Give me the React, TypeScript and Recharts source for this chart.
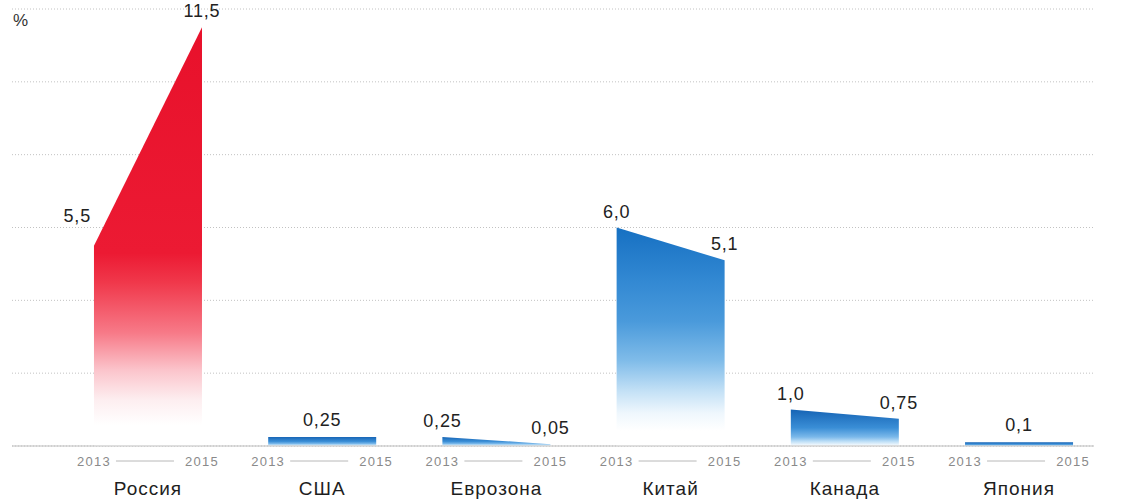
import React from 'react';
import {
  ComposedChart,
  Area,
  XAxis,
  YAxis,
  CartesianGrid,
  LabelList,
  ReferenceDot,
} from 'recharts';

const countries = ['Россия', 'США', 'Еврозона', 'Китай', 'Канада', 'Япония'];
const seriesKeys = ['ru', 'us', 'ez', 'cn', 'ca', 'jp'];
const years = ['2013', '2015'];
const rate2013 = [5.5, 0.25, 0.25, 6.0, 1.0, 0.1];
const rate2015 = [11.5, 0.25, 0.05, 5.1, 0.75, 0.1];
const gridTicks = [2, 4, 6, 8, 10];

// layout of the number axis: each country spans one unit, groups are spaced by GROUP_STEP
const GROUP_STEP = 1.613;
const X_DOMAIN: [number, number] = [-0.759, 9.259];
const FONT = '"Liberation Sans", Arial, Helvetica, sans-serif';
const YEAR_AXIS = 'a-years';
const NAME_AXIS = 'b-names';

const rows = countries.flatMap((_, i) =>
  [rate2013[i], rate2015[i]].map((v, j) => ({
    x: i * GROUP_STEP + j,
    year: years[j],
    [seriesKeys[i]]: v,
  }))
);
const yearTicks = rows.map((r) => r.x);
const centers = countries.map((_, i) => i * GROUP_STEP + 0.5);

const fmt = (v: number) =>
  (Number.isInteger(v) ? v.toFixed(1) : String(v)).replace('.', ',');

const GRADIENTS: Record<string, [number, string][]> = {
  ru: [
    [0, '#e8112b'],
    [0.54, '#ec1a33'],
    [0.61, '#f0384b'],
    [0.73, '#f77a88'],
    [0.82, '#fbc5cc'],
    [0.89, '#fdeef0'],
    [0.95, '#ffffff'],
  ],
  cn: [
    [0, '#1670c2'],
    [0.25, '#3389d3'],
    [0.43, '#4a9adb'],
    [0.61, '#80bce9'],
    [0.75, '#c4e1f6'],
    [0.85, '#eff7fd'],
    [0.93, '#ffffff'],
  ],
  small: [
    [0, '#1664b5'],
    [0.5, '#3a8ed6'],
    [0.75, '#7ab8ea'],
    [0.88, '#c0e0f7'],
    [1, '#ffffff'],
  ],
};
const gradFor = (k: string) => (k === 'ru' || k === 'cn' ? k : 'small');

const valueLabel = (i: number) => (props: any) => {
  const { value, index } = props;
  if (value == null) return null;
  const x = Number(props.x ?? props.viewBox?.x);
  const y = Number(props.y ?? props.viewBox?.y);
  const first = index % 2 === 0;
  const rising = first && rate2015[i] > rate2013[i];
  return (
    <text
      x={rising ? x - 3 : x}
      y={rising ? y - 30 : y - 16}
      textAnchor={rising ? 'end' : 'middle'}
      dominantBaseline='central'
      fontSize={18}
      fontFamily={FONT}
      letterSpacing={0.8}
      fill='#222'
    >
      {fmt(value)}
    </text>
  );
};

const singleLabel = (v: number) => (props: any) => {
  const vb = props.viewBox || {};
  return (
    <text
      x={vb.x + (vb.width || 0) / 2}
      y={vb.y - 17}
      textAnchor='middle'
      dominantBaseline='central'
      fontSize={18}
      fontFamily={FONT}
      letterSpacing={0.8}
      fill='#222'
    >
      {fmt(v)}
    </text>
  );
};

const YearTick = (props: any) => {
  const { x, y, payload } = props;
  const row = rows.find((r) => Math.abs(r.x - payload.value) < 1e-6);
  if (!row) return null;
  const first = row.year === years[0];
  return (
    <g>
      <text
        x={x}
        y={y + 7}
        textAnchor='middle'
        dominantBaseline='central'
        fontSize={13}
        fontFamily={FONT}
        letterSpacing={1.2}
        fill='#8a8a8a'
      >
        {row.year}
      </text>
      {first && (
        <line x1={x + 22} x2={x + 80} y1={y + 7} y2={y + 7} stroke='#b8b8b8' />
      )}
    </g>
  );
};

const NameTick = (props: any) => {
  const { x, y, payload } = props;
  const i = centers.findIndex((c) => Math.abs(c - payload.value) < 1e-6);
  if (i < 0) return null;
  return (
    <text
      x={x}
      y={y + 4}
      textAnchor='middle'
      dominantBaseline='central'
      fontSize={19}
      fontFamily={FONT}
      letterSpacing={1}
      fill='#1e1e1e'
    >
      {countries[i]}
    </text>
  );
};

const App = () => {
  return (
    <div style={{ position: 'relative', width: 1141, height: 500, background: '#fff' }}>
      <style>{'body{margin:0}'}</style>
      <div
        style={{
          position: 'absolute',
          left: 13,
          top: 11,
          fontFamily: FONT,
          fontSize: 17,
          lineHeight: '20px',
          color: '#333',
        }}
      >
        %
      </div>
      <ComposedChart
        width={1141}
        height={500}
        data={rows}
        margin={{ top: 9, right: 47, bottom: 0, left: 12 }}
      >
        <defs>
          {Object.entries(GRADIENTS).map(([id, stops]) => (
            <linearGradient key={id} id={`grad-${id}`} x1='0' y1='0' x2='0' y2='1'>
              {stops.map(([o, c]) => (
                <stop key={o} offset={o} stopColor={c} stopOpacity={1} />
              ))}
            </linearGradient>
          ))}
        </defs>
        <CartesianGrid
          xAxisId={YEAR_AXIS}
          vertical={false}
          stroke='#c2c2c2'
          strokeDasharray='1 2'
        />
        <XAxis
          xAxisId={YEAR_AXIS}
          type='number'
          dataKey='x'
          domain={X_DOMAIN}
          ticks={yearTicks}
          interval={0}
          allowDataOverflow
          tickLine={false}
          axisLine={{ stroke: '#bdbdbd' }}
          height={30}
          tick={<YearTick />}
        />
        <XAxis
          xAxisId={NAME_AXIS}
          type='number'
          dataKey='x'
          domain={X_DOMAIN}
          ticks={centers}
          interval={0}
          allowDataOverflow
          tickLine={false}
          axisLine={false}
          height={24}
          tick={<NameTick />}
        />
        <YAxis hide domain={[0, 12]} ticks={gridTicks} />
        {seriesKeys.map((k, i) => (
          <Area
            key={k}
            xAxisId={YEAR_AXIS}
            dataKey={k}
            type='linear'
            stroke='none'
            fill={`url(#grad-${gradFor(k)})`}
            fillOpacity={1}
            connectNulls={false}
            dot={false}
            activeDot={false}
            isAnimationActive={false}
          >
            {rate2013[i] !== rate2015[i] && (
              <LabelList dataKey={k} content={valueLabel(i)} />
            )}
          </Area>
        ))}
        {countries.map((_, i) =>
          rate2013[i] === rate2015[i] ? (
            <ReferenceDot
              key={`single-${i}`}
              xAxisId={YEAR_AXIS}
              x={centers[i]}
              y={rate2013[i]}
              r={0}
              fill='none'
              stroke='none'
              label={singleLabel(rate2013[i])}
            />
          ) : null
        )}
      </ComposedChart>
    </div>
  );
};

export default App;
